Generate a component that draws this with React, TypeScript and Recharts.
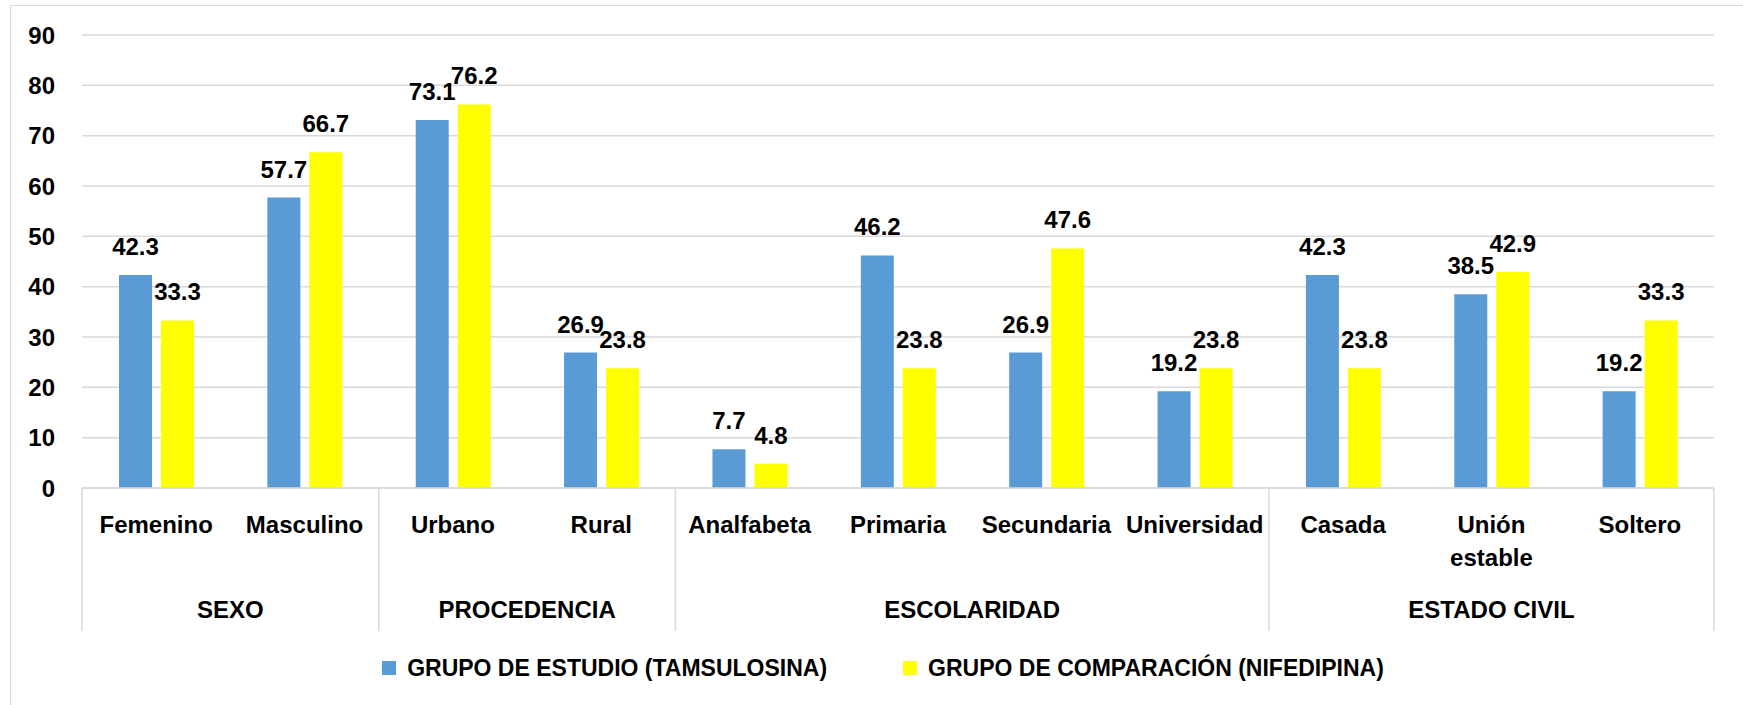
import React from 'react';
import { BarChart, Bar, XAxis, YAxis, CartesianGrid, Legend, LabelList } from 'recharts';

const categories = ['Femenino', 'Masculino', 'Urbano', 'Rural', 'Analfabeta', 'Primaria', 'Secundaria', 'Universidad', 'Casada', 'Unión estable', 'Soltero'];
const groups = ['SEXO', 'SEXO', 'PROCEDENCIA', 'PROCEDENCIA', 'ESCOLARIDAD', 'ESCOLARIDAD', 'ESCOLARIDAD', 'ESCOLARIDAD', 'ESTADO CIVIL', 'ESTADO CIVIL', 'ESTADO CIVIL'];
const tamsulosina = [42.3, 57.7, 73.1, 26.9, 7.7, 46.2, 26.9, 19.2, 42.3, 38.5, 19.2];
const nifedipina = [33.3, 66.7, 76.2, 23.8, 4.8, 23.8, 47.6, 23.8, 23.8, 42.9, 33.3];
const yTicks = [0, 10, 20, 30, 40, 50, 60, 70, 80, 90];
const seriesNames = ['GRUPO DE ESTUDIO (TAMSULOSINA)', 'GRUPO DE COMPARACIÓN (NIFEDIPINA)'];

const data = categories.map((c, i) => ({
  name: c,
  group: groups[i],
  tam: tamsulosina[i],
  nif: nifedipina[i],
}));

const W = 1743;
const H = 705;
const MARGIN = { top: 35, right: 29, left: 0, bottom: 17 };
const Y_W = 82;
const PLOT_W = W - MARGIN.left - MARGIN.right - Y_W;
const BAND = PLOT_W / categories.length;
const FONT = "'Liberation Sans', Arial, sans-serif";
const GRID = '#d9d9d9';
const BLUE = '#5B9BD5';
const YELLOW = '#FFFF00';

const CategoryTick = (props: any) => {
  const { x, y, payload } = props;
  const i = payload.index ?? props.index;
  const lines = categories[i].split(' ');
  const g = groups[i];
  const first = i === 0 || groups[i - 1] !== g;
  const count = groups.filter((v) => v === g).length;
  const left = x - BAND / 2;
  const last = i === categories.length - 1;
  return (
    <g>
      {lines.map((l, k) => (
        <text key={k} x={x} y={y + 45 + k * 33} textAnchor="middle" fontFamily={FONT} fontWeight={700} fontSize={24} fill="#000">
          {l}
        </text>
      ))}
      {first && (
        <>
          <line x1={left} x2={left} y1={y} y2={y + 143} stroke={GRID} strokeWidth={1.5} />
          <text x={left + (count * BAND) / 2} y={y + 130} textAnchor="middle" fontFamily={FONT} fontWeight={700} fontSize={24} fill="#000">
            {g}
          </text>
        </>
      )}
      {last && <line x1={x + BAND / 2} x2={x + BAND / 2} y1={y} y2={y + 143} stroke={GRID} strokeWidth={1.5} />}
    </g>
  );
};

const LegendContent = () => (
  <div
    style={{
      display: 'flex',
      justifyContent: 'center',
      alignItems: 'center',
      height: 40,
      paddingLeft: 52,
      fontFamily: FONT,
      fontWeight: 700,
      fontSize: 23,
      color: '#000',
      boxSizing: 'border-box',
    }}
  >
    {[BLUE, YELLOW].map((c, k) => (
      <div key={k} style={{ display: 'flex', alignItems: 'center', marginLeft: k === 0 ? 0 : 76 }}>
        <span style={{ display: 'inline-block', width: 14, height: 14, background: c, marginRight: 11 }} />
        <span>{seriesNames[k]}</span>
      </div>
    ))}
  </div>
);

export default function App() {
  return (
    <div style={{ position: 'absolute', left: 0, top: 0, width: W, height: H, background: '#fff', overflow: 'hidden' }}>
      <div
        style={{
          position: 'absolute',
          left: 10,
          top: 5,
          width: 1740,
          height: 720,
          border: `1.5px solid ${GRID}`,
          boxSizing: 'border-box',
        }}
      />
      <div style={{ position: 'absolute', left: 0, top: 0 }}>
        <BarChart width={W} height={H} data={data} margin={MARGIN} barSize={33} barGap={9}>
          <CartesianGrid vertical={false} stroke={GRID} strokeWidth={1.5} />
          <XAxis
            dataKey="name"
            interval={0}
            height={160}
            axisLine={{ stroke: GRID, strokeWidth: 1.5 }}
            tickLine={false}
            tickSize={0}
            tickMargin={0}
            tick={<CategoryTick />}
          />
          <YAxis
            width={Y_W}
            domain={[0, 90]}
            ticks={yTicks}
            axisLine={false}
            tickLine={false}
            tickSize={0}
            tickMargin={27}
            tick={{ fontFamily: FONT, fontWeight: 700, fontSize: 24, fill: '#000' }}
          />
          <Legend verticalAlign="bottom" height={40} content={<LegendContent />} />
          <Bar dataKey="tam" name={seriesNames[0]} fill={BLUE} isAnimationActive={false}>
            <LabelList dataKey="tam" position="top" offset={20} style={{ fontFamily: FONT, fontWeight: 700, fontSize: 24, fill: '#000' }} />
          </Bar>
          <Bar dataKey="nif" name={seriesNames[1]} fill={YELLOW} isAnimationActive={false}>
            <LabelList dataKey="nif" position="top" offset={20} style={{ fontFamily: FONT, fontWeight: 700, fontSize: 24, fill: '#000' }} />
          </Bar>
        </BarChart>
      </div>
    </div>
  );
}
